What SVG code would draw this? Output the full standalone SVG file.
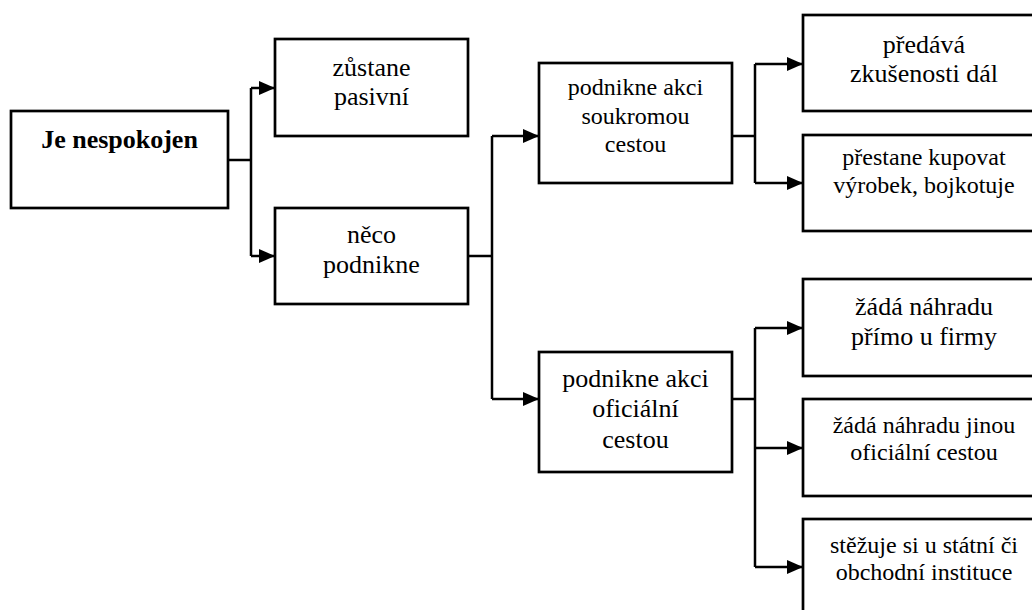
<svg xmlns="http://www.w3.org/2000/svg" width="1032" height="610" viewBox="0 0 1032 610" font-family="'Liberation Serif', Tinos, 'DejaVu Serif', serif">
<style>
.box{fill:#fff;stroke:#000;stroke-width:2.7}
.t{font-family:'Liberation Serif', Tinos, 'DejaVu Serif', serif;fill:#000;text-anchor:middle}
.f26{font-size:26px}
.f24{font-size:24px}
.b{font-weight:bold}
.c{fill:none;stroke:#000;stroke-width:2.5}
</style>
<defs>
<marker id="ah" markerUnits="userSpaceOnUse" markerWidth="16" markerHeight="14" refX="16" refY="7" orient="auto">
<path d="M0,0 L16,7 L0,14 z" fill="#000"/>
</marker>
</defs>
<rect width="1032" height="610" fill="#fff"/>
<g id="connectors">
<path class="c" d="M228,160 H251 M251,88 V256"/>
<path class="c" d="M251,88 H275" marker-end="url(#ah)"/>
<path class="c" d="M251,256 H275" marker-end="url(#ah)"/>
<path class="c" d="M468,256 H492 M492,136 V399"/>
<path class="c" d="M492,136 H539" marker-end="url(#ah)"/>
<path class="c" d="M492,399 H539" marker-end="url(#ah)"/>
<path class="c" d="M732,136 H755 M755,64 V183"/>
<path class="c" d="M755,64 H803" marker-end="url(#ah)"/>
<path class="c" d="M755,183 H803" marker-end="url(#ah)"/>
<path class="c" d="M732,399 H755 M755,328 V567"/>
<path class="c" d="M755,328 H803" marker-end="url(#ah)"/>
<path class="c" d="M755,448 H803" marker-end="url(#ah)"/>
<path class="c" d="M755,567 H803" marker-end="url(#ah)"/>
</g>
<g id="root">
<rect class="box" x="11" y="111" width="217" height="97"/>
<text class="t f26 b" x="119.5" y="148">Je nespokojen</text>
</g>
<g id="pasivni">
<rect class="box" x="275" y="39" width="193" height="97"/>
<text class="t f26" x="371.5" y="76">zůstane</text>
<text class="t f26" x="371.5" y="105">pasivní</text>
</g>
<g id="neco">
<rect class="box" x="275" y="208" width="193" height="96"/>
<text class="t f26" x="371.5" y="243">něco</text>
<text class="t f26" x="371.5" y="273">podnikne</text>
</g>
<g id="soukromou">
<rect class="box" x="539" y="63" width="193" height="120"/>
<text class="t f24" x="635.5" y="95">podnikne akci</text>
<text class="t f24" x="635.5" y="123.5">soukromou</text>
<text class="t f24" x="635.5" y="152">cestou</text>
</g>
<g id="oficialni">
<rect class="box" x="539" y="352" width="193" height="120"/>
<text class="t f26" x="635.5" y="387">podnikne akci</text>
<text class="t f26" x="635.5" y="417">oficiální</text>
<text class="t f26" x="635.5" y="448">cestou</text>
</g>
<g id="predava">
<rect class="box" x="803" y="15" width="245" height="96"/>
<text class="t f26" x="924" y="53">předává</text>
<text class="t f26" x="924" y="82">zkušenosti dál</text>
</g>
<g id="prestane">
<rect class="box" x="803" y="135" width="245" height="96"/>
<text class="t f24" x="924" y="165">přestane kupovat</text>
<text class="t f24" x="924" y="193">výrobek, bojkotuje</text>
</g>
<g id="primo">
<rect class="box" x="803" y="279" width="245" height="97"/>
<text class="t f26" x="924" y="315">žádá náhradu</text>
<text class="t f26" x="924" y="345">přímo u firmy</text>
</g>
<g id="jinou">
<rect class="box" x="803" y="399" width="245" height="97"/>
<text class="t f24" x="924" y="433">žádá náhradu jinou</text>
<text class="t f24" x="924" y="460">oficiální cestou</text>
</g>
<g id="statni">
<rect class="box" x="803" y="519" width="245" height="97"/>
<text class="t f24" x="924" y="553">stěžuje si u státní či</text>
<text class="t f24" x="924" y="580">obchodní instituce</text>
</g>
</svg>
